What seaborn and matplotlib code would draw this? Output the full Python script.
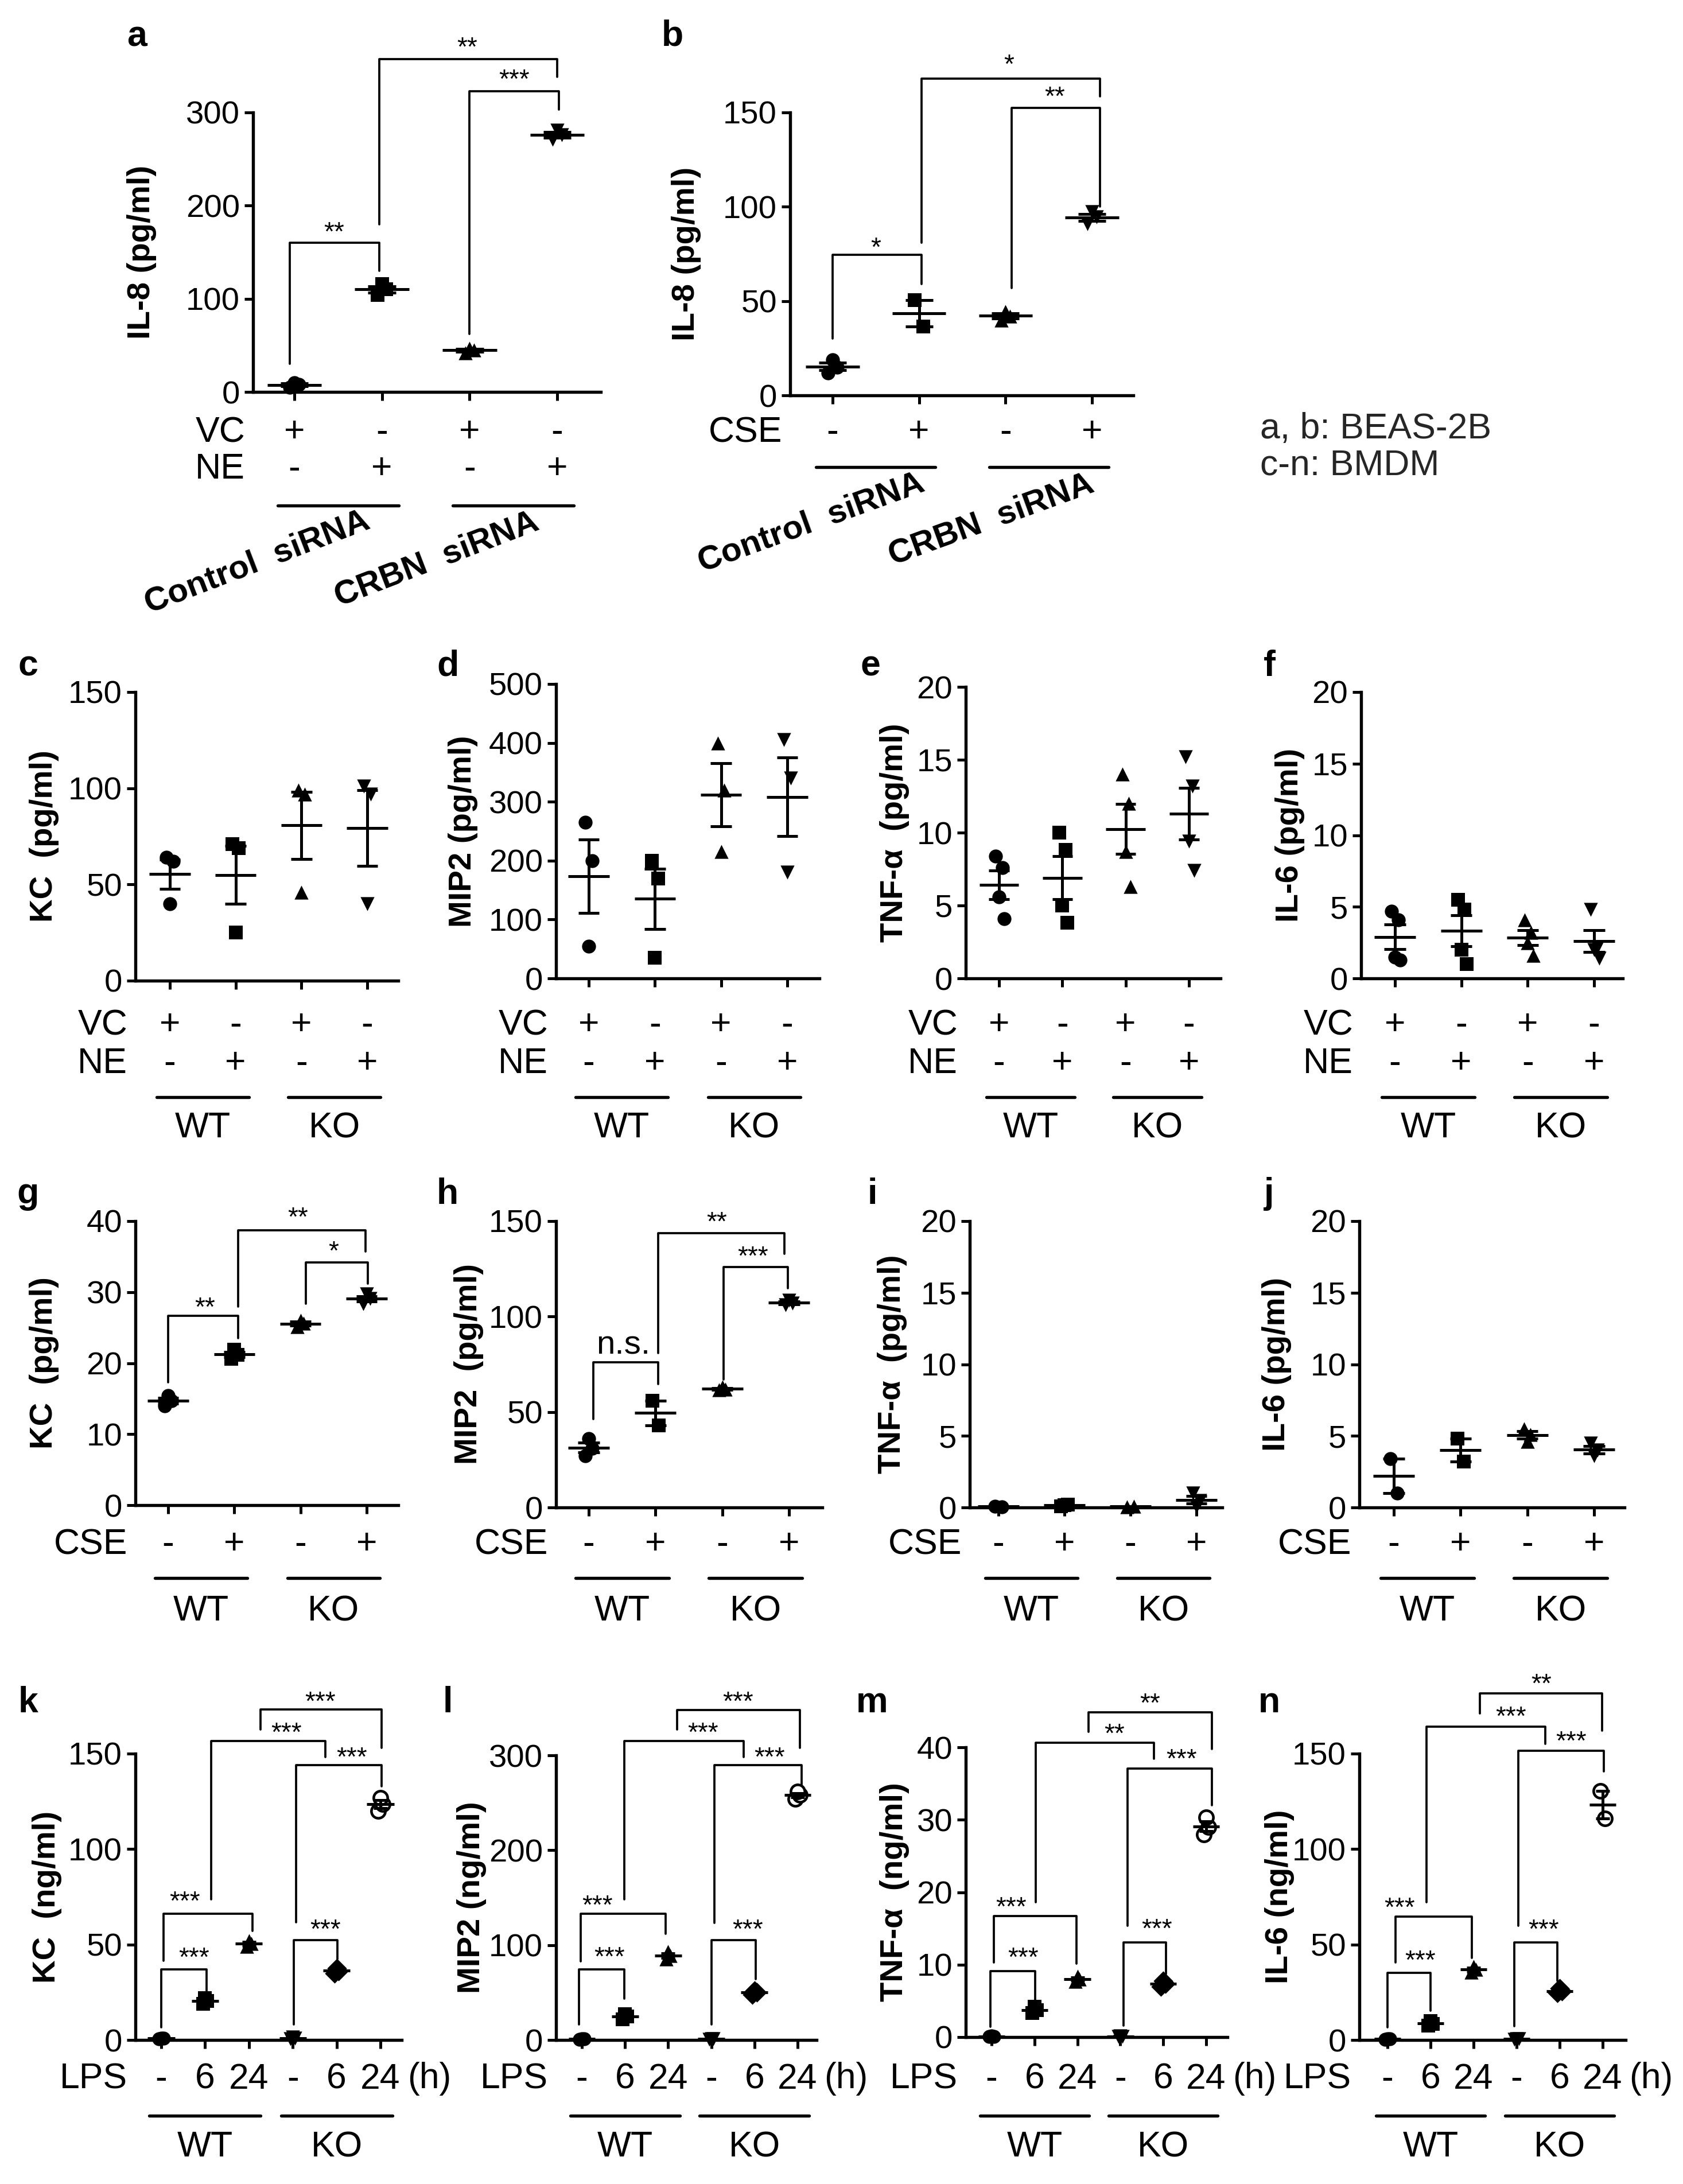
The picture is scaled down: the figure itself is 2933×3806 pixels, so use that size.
import numpy as np
import pandas as pd
import matplotlib
matplotlib.use("Agg")
import matplotlib.pyplot as plt
from matplotlib import transforms
import seaborn as sns

# ------------------------------------------------------------------ data
a_vals = [[5, 8, 10], [104, 110, 116], [42, 45, 47], [271, 276, 281]]
b_vals = [[12, 15, 19], [50.5, 36.5], [40, 42, 44.5], [91, 94.5, 97.5]]
c_vals = [[64, 62, 40], [71, 69, 25], [99, 97, 46], [101, 97, 40]]
d_vals = [[265, 200, 55], [200, 170, 35], [400, 320, 215], [405, 340, 180]]
e_vals = [[8.4, 7.6, 5.6, 4.1], [10.0, 8.8, 5.0, 3.8], [14.0, 12.0, 8.7, 6.3], [15.2, 13.2, 9.4, 7.4]]
f_vals = [[4.7, 4.1, 1.5, 1.3], [5.5, 4.8, 2.0, 1.0], [4.1, 3.2, 2.5, 1.6], [4.8, 2.2, 2.0, 1.4]]
g_vals = [[14.0, 14.7, 15.4], [20.6, 21.2, 21.9], [25.1, 25.6, 26.0], [28.4, 29.1, 29.7]]
h_vals = [[27, 31, 36], [56, 43], [61.5, 62, 63], [106, 107, 108.5]]
i_vals = [[0.1, 0.05], [0.1, 0.2, 0.15], [0.05, 0.1], [1.0, 0.5, 0.1]]
j_vals = [[3.4, 1.0], [4.8, 3.2], [5.5, 5.1, 4.6], [4.5, 4.0, 3.6]]
k_vals = [[0.5, 0.8, 1.0], [19.0, 20.5, 22.0], [49.0, 50.5, 52.0], [0.5, 1.0, 1.5], [35.0, 36.2, 37.5], [120.0, 123.5, 127.0]]
l_vals = [[0.5, 1.0, 1.5], [22, 25, 27], [85, 89, 93], [0.5, 1.0, 1.5], [48, 50, 52], [254, 258, 262]]
m_vals = [[0.05, 0.1, 0.15], [3.3, 3.7, 4.2], [7.7, 8.0, 8.4], [0.05, 0.1, 0.15], [7.0, 7.4, 7.8], [28.0, 29.0, 30.3]]
n_vals = [[0.3, 0.5, 0.7], [7.5, 8.5, 10.0], [35.5, 37.0, 38.5], [0.3, 0.5, 0.7], [24.5, 25.5, 27.0], [130.5, 116.0]]

ylabels = {
    "a": "IL-8 (pg/ml)", "b": "IL-8 (pg/ml)",
    "c": "KC  (pg/ml)", "d": "MIP2 (pg/ml)", "e": "TNF-\u03b1  (pg/ml)", "f": "IL-6 (pg/ml)",
    "g": "KC  (pg/ml)", "h": "MIP2  (pg/ml)", "i": "TNF-\u03b1  (pg/ml)", "j": "IL-6 (pg/ml)",
    "k": "KC  (ng/ml)", "l": "MIP2 (ng/ml)", "m": "TNF-\u03b1  (ng/ml)", "n": "IL-6 (ng/ml)",
}
yticks = {
    "a": [0, 100, 200, 300], "b": [0, 50, 100, 150],
    "c": [0, 50, 100, 150], "d": [0, 100, 200, 300, 400, 500], "e": [0, 5, 10, 15, 20], "f": [0, 5, 10, 15, 20],
    "g": [0, 10, 20, 30, 40], "h": [0, 50, 100, 150], "i": [0, 5, 10, 15, 20], "j": [0, 5, 10, 15, 20],
    "k": [0, 50, 100, 150], "l": [0, 100, 200, 300], "m": [0, 10, 20, 30, 40], "n": [0, 50, 100, 150],
}

# treatment rows under the axes
vc_ne_rows = [("VC", ["+", "-", "+", "-"]), ("NE", ["-", "+", "-", "+"])]
cse_rows = [("CSE", ["-", "+", "-", "+"])]
lps_rows = [("LPS", ["-", "6", "24", "-", "6", "24"])]
siRNA_groups = ["Control  siRNA", "CRBN  siRNA"]
mouse_groups = ["WT", "KO"]

# significance brackets: (x_left, x_right, y_line, y_left_end, y_right_end, text, text_x, text_y)
a_brk = [(-0.05, 0.97, 160, 30, 130, "**", 0.45, 179), (2.0, 3.02, 323, 62, 303, "***", 2.51, 343),
         (0.97, 3.0, 357, 180, 338, "**", 1.97, 377)]
b_brk = [(0, 1.03, 74.4, 30, 59, "*", 0.5, 82), (2.07, 3.09, 152.4, 57, 100, "**", 2.57, 162),
         (1.03, 3.09, 168, 81, 158.5, "*", 2.04, 179)]
g_brk = [(0, 1.06, 26.7, 17.3, 23.5, "**", 0.56, 28.8), (2.08, 3.02, 34.2, 28.4, 31.2, "*", 2.5, 36.7),
         (1.06, 2.98, 38.7, 28, 35.7, "**", 1.96, 41.5)]
h_brk = [(0.07, 1.04, 76.1, 46.3, 64.5, "n.s.", 0.52, 85), (2.02, 2.98, 126, 67, 114.8, "***", 2.46, 135),
         (1.04, 2.93, 143.7, 81, 133, "**", 1.92, 153)]
k_brk = [(0.0, 1.04, 37.0, 6.5, 25.7, "***", 0.75, 46.6), (0.05, 2.08, 66.2, 41.4, 57.1, "***", 0.54, 76.3),
         (3.03, 4.02, 52.2, 8.2, 42.3, "***", 3.74, 61.5), (3.08, 5.03, 144, 61.5, 133, "***", 4.35, 151.7),
         (1.14, 3.74, 156.6, 73.7, 148.2, "***", 2.86, 164.5), (2.26, 5.03, 173.2, 162.7, 153.1, "***", 3.62, 180.7)]
l_brk = [(-0.06, 0.98, 74.5, 16.5, 43.6, "***", 0.64, 94.8), (-0.03, 1.94, 133, 83, 112, "***", 0.36, 149),
         (3.0, 4.03, 105, 16.5, 64, "***", 3.84, 123.6), (3.07, 5.09, 289.8, 123.6, 267.6, "***", 4.35, 305),
         (0.98, 3.75, 315, 148, 298, "***", 2.81, 331), (2.21, 5.05, 348, 327, 308, "***", 3.62, 363.5)]
m_brk = [(-0.03, 1.02, 9.1, 1.4, 4.8, "***", 0.74, 11.9), (0.06, 1.98, 16.7, 10.3, 10.1, "***", 0.46, 18.9),
         (3.07, 4.06, 13.1, 1.6, 8.7, "***", 3.85, 15.9), (3.17, 5.14, 37.1, 15.4, 32, "***", 4.42, 39.3),
         (1.03, 3.78, 40.6, 18.6, 38.4, "**", 2.86, 42.8), (2.26, 5.14, 44.8, 42.1, 39.8, "**", 3.69, 47)]
n_brk = [(0, 1.0, 35.3, 6.5, 15.2, "***", 0.76, 45.2), (0.18, 1.96, 64.6, 40.5, 43.1, "***", 0.28, 72.8),
         (2.94, 3.95, 51, 7.3, 30.9, "***", 3.63, 61.5), (3.04, 5.03, 151.4, 59.7, 140.6, "***", 4.27, 160),
         (0.91, 3.67, 164, 72, 155, "***", 2.87, 173), (2.14, 4.99, 181.6, 171, 162, "**", 3.57, 190)]

# ------------------------------------------------------------------ layout (pixels)
W, H = 2933, 3806
# left, right, y_of_zero, y_of_top, first_cat_x, last_cat_x, ylabel_x
LAYOUT = {
    "a": (441, 1047, 683, 196, 513, 971, 247),
    "b": (1377, 1975, 689, 196, 1451, 1903, 1196),
    "c": (236, 694, 1709, 1206, 296, 640, 77),
    "d": (969, 1428, 1705, 1192, 1026, 1372, 807),
    "e": (1683, 2127, 1705, 1197, 1741, 2072, 1559),
    "f": (2372, 2828, 1705, 1206, 2431, 2778, 2248),
    "g": (236, 694, 2623, 2128, 293, 639, 77),
    "h": (969, 1433, 2627, 2128, 1026, 1375, 817),
    "i": (1690, 2130, 2627, 2128, 1740, 2085, 1555),
    "j": (2369, 2831, 2627, 2128, 2429, 2778, 2225),
    "k": (236, 700, 3555, 3056, 281, 663, 82),
    "l": (969, 1423, 3555, 3059, 1014, 1390, 822),
    "m": (1683, 2139, 3550, 3045, 1728, 2102, 1559),
    "n": (2369, 2833, 3555, 3056, 2418, 2793, 2230),
}
LETTER_POS = {
    "a": (238, 64), "b": (1172, 63), "c": (49, 1161), "d": (780, 1161), "e": (1517, 1161), "f": (2212, 1161),
    "g": (49, 2081), "h": (780, 2081), "i": (1520, 2081), "j": (2212, 2081),
    "k": (49, 2967), "l": (780, 2967), "m": (1520, 2967), "n": (2212, 2967),
}

sns.set_theme(style="white")
plt.rcParams["font.family"] = ["Liberation Sans", "DejaVu Sans"]
NARROW = ["Liberation Sans Narrow", "Liberation Sans", "DejaVu Sans"]
plt.rcParams["axes.linewidth"] = 1.3

fig = plt.figure(figsize=(W / 300, H / 300), dpi=300)
fig.patch.set_facecolor("white")

MARKERS = ["o", "s", "^", "v", "D", "o"]
OFFS = [-0.05, 0.05, 0.0, 0.08]
MS = 34


def fy(py):
    return 1 - py / H


def panel(key, vals, brackets=None, hollow_last=False):
    left, right, y0, ytop, c0, cN, ylx = LAYOUT[key]
    n = len(vals)
    sp = (cN - c0) / (n - 1)
    ax = fig.add_axes([left / W, fy(y0), (right - left) / W, (y0 - ytop) / H])
    rows = []
    for gi, grp in enumerate(vals):
        for pi, v in enumerate(grp):
            rows.append({"x": gi + OFFS[pi], "y": v, "grp": gi})
    df = pd.DataFrame(rows)
    for gi in range(n):
        sub = df[df["grp"] == gi]
        hollow = hollow_last and gi == n - 1
        sns.scatterplot(data=sub, x="x", y="y", marker=MARKERS[gi], s=MS,
                        color="white" if hollow else "black", edgecolor="black",
                        linewidth=1.1 if hollow else 0, legend=False, ax=ax,
                        clip_on=False, zorder=3)
    for gi, grp in enumerate(vals):
        arr = np.asarray(grp, dtype=float)
        m = arr.mean()
        se = arr.std(ddof=1) / np.sqrt(len(arr))
        kw = dict(color="black", lw=1.2, solid_capstyle="butt", zorder=4, clip_on=False)
        ax.plot([gi - 0.31, gi + 0.31], [m, m], **kw)
        ax.plot([gi, gi], [m - se, m + se], **kw)
        ax.plot([gi - 0.16, gi + 0.16], [m + se, m + se], **kw)
        ax.plot([gi - 0.16, gi + 0.16], [m - se, m - se], **kw)
    ax.set_xlim((left - c0) / sp, (right - c0) / sp)
    yt = yticks[key]
    ax.set_ylim(0, yt[-1])
    ax.set_yticks(yt)
    ax.set_yticklabels([str(t) for t in yt])
    ax.set_xticks(range(n))
    ax.set_xticklabels([])
    ax.tick_params(axis="both", which="major", direction="out", length=3.5, width=1.2,
                   color="black", labelsize=13.5, labelcolor="black", pad=2,
                   labelfontfamily=NARROW, left=True, bottom=True)
    sns.despine(ax=ax)
    for sp_ in ("left", "bottom"):
        ax.spines[sp_].set_color("black")
        ax.spines[sp_].set_linewidth(1.3)
    ax.set_xlabel("")
    ax.set_ylabel("")
    ax.set_facecolor("none")
    # y label
    fig.text(ylx / W, fy((y0 + ytop) / 2), ylabels[key], rotation=90, ha="center", va="center",
             fontsize=13.5, fontweight="bold", color="black")
    # panel letter
    lx, ly = LETTER_POS[key]
    fig.text(lx / W, fy(ly), key, ha="center", va="center", fontsize=15, fontweight="bold", color="black")
    # brackets
    if brackets:
        for (x1, x2, yl, e1, e2, txt, tx, ty) in brackets:
            ax.plot([x1, x1, x2, x2], [e1, yl, yl, e2], color="black", lw=0.9, clip_on=False, zorder=2)
            if txt == "n.s.":
                ax.annotate(txt, (tx, ty), xytext=(0, -0.27 * 14), textcoords="offset points",
                            ha="center", va="baseline", fontsize=14, fontfamily=NARROW, color="black",
                            annotation_clip=False)
            else:
                ax.annotate(txt, (tx, ty), xytext=(0, -0.57 * 11), textcoords="offset points",
                            ha="center", va="baseline", fontsize=11, color="black",
                            annotation_clip=False)
    return ax


def treat_rows(ax, key, rows, ys, extra=None):
    left = LAYOUT[key][0]
    trans = transforms.blended_transform_factory(ax.transData, fig.transFigure)
    for (lab, signs), py in zip(rows, ys):
        fig.text((left - 14) / W, fy(py), lab, ha="right", va="center", fontsize=15,
                 fontfamily=NARROW, color="black")
        for xi, sg in enumerate(signs):
            ax.text(xi, fy(py), sg, transform=trans, ha="center", va="center", fontsize=15,
                    fontfamily=NARROW, color="black", clip_on=False)
    if extra:
        ax.text(extra[0], fy(ys[0]), extra[1], transform=trans, ha="center", va="center",
                fontsize=15, fontfamily=NARROW, color="black", clip_on=False)


def group_lines(ax, centers, half, py_line, labels=None, py_lab=None):
    trans = transforms.blended_transform_factory(ax.transData, fig.transFigure)
    for i, c in enumerate(centers):
        ax.plot([c - half, c + half], [fy(py_line)] * 2, transform=trans, color="black", lw=1.3,
                clip_on=False)
        if labels is not None:
            ax.text(c, fy(py_lab), labels[i], transform=trans, ha="center", va="center", fontsize=15,
                    fontfamily=NARROW, color="black", clip_on=False)


# ------------------------------------------------------------------ row 1
ax = panel("a", a_vals, a_brk)
treat_rows(ax, "a", vc_ne_rows, [754, 818])
group_lines(ax, [0.5, 2.5], 0.69, 881)
for lab, (px, py) in zip(siRNA_groups, [(448, 980), (761, 975)]):
    fig.text(px / W, fy(py), lab, rotation=21, ha="center", va="center", rotation_mode="anchor",
             fontsize=14, fontweight="bold", color="black")

ax = panel("b", b_vals, b_brk)
treat_rows(ax, "b", cse_rows, [754])
group_lines(ax, [0.5, 2.5], 0.69, 814)
for lab, (px, py) in zip(siRNA_groups, [(1414, 911), (1727, 906)]):
    fig.text(px / W, fy(py), lab, rotation=20, ha="center", va="center", rotation_mode="anchor",
             fontsize=14, fontweight="bold", color="black")

fig.text(2196 / W, fy(747), "a, b: BEAS-2B", ha="left", va="center", fontsize=15, fontfamily=NARROW)
fig.text(2196 / W, fy(811), "c-n: BMDM", ha="left", va="center", fontsize=15, fontfamily=NARROW)

# ------------------------------------------------------------------ row 2
for key, vals in zip("cdef", [c_vals, d_vals, e_vals, f_vals]):
    ax = panel(key, vals)
    treat_rows(ax, key, vc_ne_rows, [1787, 1853])
    group_lines(ax, [0.5, 2.5], 0.7, 1912, mouse_groups, 1966)

# ------------------------------------------------------------------ row 3
for key, vals, brk in zip("ghij", [g_vals, h_vals, i_vals, j_vals], [g_brk, h_brk, None, None]):
    ax = panel(key, vals, brk)
    treat_rows(ax, key, cse_rows, [2692])
    group_lines(ax, [0.5, 2.5], 0.7, 2750, mouse_groups, 2808)

# ------------------------------------------------------------------ row 4
for key, vals, brk in zip("klmn", [k_vals, l_vals, m_vals, n_vals], [k_brk, l_brk, m_brk, n_brk]):
    ax = panel(key, vals, brk, hollow_last=True)
    treat_rows(ax, key, lps_rows, [3623], extra=(6.12, "(h)"))
    group_lines(ax, [1, 4], 1.27, 3687, mouse_groups, 3742)

fig.savefig("out.png", dpi=300, facecolor="white")
